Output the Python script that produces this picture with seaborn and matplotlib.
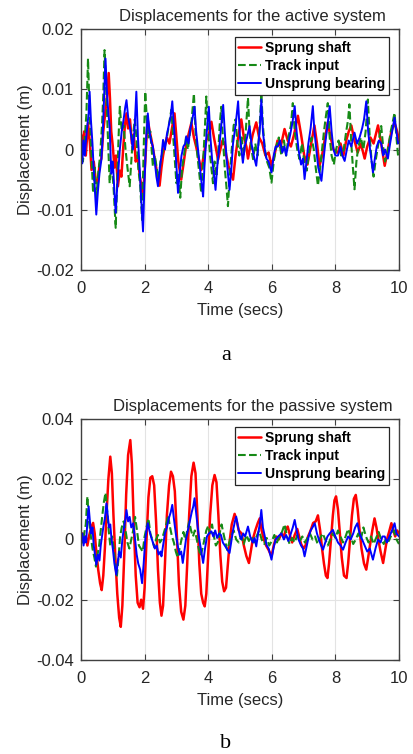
import numpy as np
import pandas as pd
import matplotlib
matplotlib.use("Agg")
import matplotlib.pyplot as plt
import seaborn as sns
from matplotlib.ticker import FuncFormatter

# ==========================================
# data (values in mm, converted to m below)
# ==========================================
SERIES_NAMES = ["Sprung shaft", "Track input", "Unsprung bearing"]

# --- panel a : active system ---
ACT_RED_T = [0.00, 0.05, 0.10, 0.15, 0.22, 0.28, 0.33, 0.40, 0.46, 0.53, 0.58, 0.64, 0.70, 0.76, 0.82, 0.87, 0.91, 0.95,
             1.00, 1.05, 1.10, 1.16, 1.22, 1.27, 1.33, 1.38, 1.43, 1.48, 1.54, 1.60, 1.66, 1.72, 1.78, 1.85, 1.95, 2.02,
             2.06, 2.10, 2.16, 2.22, 2.30, 2.38, 2.47, 2.53, 2.58, 2.63, 2.70, 2.78, 2.86, 2.94, 3.00, 3.06, 3.15, 3.22,
             3.30, 3.38, 3.47, 3.55, 3.62, 3.70, 3.78, 3.86, 3.94, 4.02, 4.10, 4.18, 4.25, 4.31, 4.38, 4.45, 4.52, 4.57,
             4.65, 4.72, 4.78, 4.86, 4.94, 5.04, 5.12, 5.20, 5.25, 5.32, 5.40, 5.51, 5.60, 5.70, 5.80, 5.90, 5.99, 6.08,
             6.18, 6.28, 6.40, 6.50, 6.60, 6.70, 6.82, 6.92, 7.02, 7.12, 7.22, 7.34, 7.42, 7.50, 7.58, 7.66, 7.76, 7.85,
             7.94, 8.02, 8.08, 8.16, 8.25, 8.34, 8.42, 8.50, 8.60, 8.70, 8.80, 8.92, 9.00, 9.10, 9.20, 9.34, 9.44, 9.55,
             9.65, 9.76, 9.86, 9.94, 10.0]
ACT_RED_V = [2.5, 1.0, 3.0, -1.0, 4.4, 1.0, -3.4, -2.0, -5.0, -5.6, -2.5, -1.5, 3.0, 6.0, 9.0, 12.7, 8.5, 3.0,
             0.5, -3.0, -1.0, -6.1, -3.5, -4.5, 0.5, 4.0, 6.0, 3.5, 5.0, 1.0, 2.5, -2.0, -1.0, -4.5, -7.8, -2.0,
             2.0, 4.9, 3.0, 1.5, -1.0, -3.5, -6.0, -3.0, -1.0, 0.5, 2.0, 1.0, 3.5, 6.0, 2.0, -2.0, -5.0, -2.5,
             0.5, 2.5, 4.4, 2.0, 0.5, -1.5, -3.4, -1.0, 1.5, 2.5, 4.6, 2.0, 0.0, -1.7, 0.0, 1.5, 1.0, -1.0,
             -3.0, -4.0, -5.0, -1.0, 2.0, 5.0, 2.0, 0.5, -1.5, 0.5, 2.5, 4.5, 2.0, 1.0, -1.0, -0.5, -2.7, -1.0,
             1.5, 0.5, 3.4, 1.5, 0.5, 2.5, 5.6, 2.5, -1.0, -2.5, 0.5, 4.0, 1.0, -2.7, -1.0, 1.5, 4.5, 2.0,
             0.0, -0.5, -0.5, 1.0, -1.0, 1.5, 3.0, 4.0, 1.5, -0.5, 1.0, -1.5, 0.5, 2.0, 1.0, 4.0, 1.0, -2.7,
             0.0, 3.0, 4.5, 3.0, 1.5]

ACT_GRN_T = [0.00, 0.06, 0.12, 0.17, 0.22, 0.27, 0.32, 0.38, 0.43, 0.48, 0.54, 0.60, 0.66, 0.70, 0.74, 0.79, 0.84, 0.90,
             0.96, 1.02, 1.09, 1.14, 1.18, 1.22, 1.28, 1.34, 1.40, 1.46, 1.53, 1.58, 1.63, 1.69, 1.74, 1.80, 1.86, 1.92,
             1.97, 2.02, 2.07, 2.12, 2.18, 2.26, 2.32, 2.38, 2.44, 2.50, 2.56, 2.63, 2.70, 2.76, 2.84, 2.90, 2.95, 3.00,
             3.06, 3.12, 3.18, 3.24, 3.30, 3.36, 3.42, 3.48, 3.55, 3.60, 3.66, 3.72, 3.78, 3.84, 3.89, 3.94, 4.00, 4.06,
             4.15, 4.20, 4.26, 4.32, 4.36, 4.41, 4.46, 4.52, 4.57, 4.62, 4.68, 4.74, 4.80, 4.86, 4.92, 4.98, 5.05, 5.12,
             5.18, 5.25, 5.30, 5.36, 5.41, 5.48, 5.55, 5.61, 5.67, 5.72, 5.78, 5.85, 5.92, 5.99, 6.06, 6.14, 6.22, 6.30,
             6.38, 6.45, 6.52, 6.60, 6.66, 6.72, 6.80, 6.87, 6.95, 7.02, 7.10, 7.18, 7.25, 7.32, 7.38, 7.45, 7.52, 7.58,
             7.64, 7.70, 7.76, 7.82, 7.88, 7.95, 8.02, 8.10, 8.18, 8.26, 8.34, 8.40, 8.44, 8.50, 8.55, 8.60, 8.66, 8.72,
             8.80, 8.88, 8.95, 9.02, 9.08, 9.14, 9.20, 9.26, 9.32, 9.38, 9.44, 9.50, 9.56, 9.62, 9.68, 9.74, 9.80, 9.86,
             9.92, 9.97, 10.0]
ACT_GRN_V = [0.5, -2.0, 2.0, 6.0, 15.1, 6.0, 0.0, -7.2, -3.0, -8.3, -4.0, -1.0, 4.0, 9.0, 16.5, 10.0, 3.0, -5.6,
             -2.0, -6.0, -13.0, -5.0, 2.0, 7.1, 3.0, 4.0, 0.0, -3.0, -6.1, -2.0, 2.0, 5.0, 2.2, -3.0, -6.0, -11.7,
             0.0, 9.6, 5.0, 2.0, 3.0, -2.8, -1.0, -3.0, -5.0, -2.0, -0.5, 0.7, 2.0, 4.0, 6.6, 2.0, -2.0, -5.6,
             -4.0, -8.0, -3.0, -1.0, 2.0, 0.0, 2.5, 5.0, 9.3, 3.0, -1.0, -4.0, -7.2, -2.0, 3.0, 8.8, 3.0, -1.0,
             -5.6, -2.0, -4.5, 0.0, 4.0, 7.1, 2.0, -3.0, -6.0, -9.4, -4.0, 0.0, 4.0, 5.0, 1.0, -1.0, 2.0, -1.0,
             3.0, 8.6, 3.0, 0.0, -1.6, 1.0, -1.0, 3.0, 9.4, 4.0, 0.0, -2.0, -3.0, -5.5, -2.0, 0.5, 2.0, -1.0,
             1.5, -1.0, 2.0, 4.0, 7.7, 3.0, 0.0, -1.6, 1.0, -2.0, -3.5, 0.0, 2.0, 0.0, -3.0, -6.0, -3.0, 0.0,
             3.0, 5.5, 7.7, 2.0, -1.0, -2.5, 0.0, 1.5, -1.0, 0.0, 3.0, 5.0, 7.5, 1.0, -3.0, -6.6, -2.0, 0.5,
             2.0, 0.0, 3.0, 8.3, 2.0, -2.0, -4.5, -2.0, 0.0, 2.0, 3.9, 0.5, -2.0, -1.0, 1.0, 3.0, 4.5, 6.1,
             2.0, -1.0, -1.5]

ACT_BLU_T = [0.00, 0.04, 0.08, 0.12, 0.18, 0.24, 0.27, 0.31, 0.36, 0.40, 0.44, 0.48, 0.53, 0.58, 0.64, 0.68, 0.72, 0.77,
             0.81, 0.86, 0.90, 0.95, 1.00, 1.05, 1.09, 1.14, 1.18, 1.22, 1.28, 1.34, 1.39, 1.43, 1.48, 1.53, 1.58, 1.63,
             1.68, 1.74, 1.79, 1.84, 1.89, 1.95, 2.00, 2.05, 2.10, 2.15, 2.20, 2.26, 2.32, 2.37, 2.42, 2.48, 2.53, 2.58,
             2.64, 2.70, 2.76, 2.82, 2.87, 2.92, 2.97, 3.01, 3.05, 3.10, 3.16, 3.22, 3.28, 3.31, 3.38, 3.44, 3.50, 3.57,
             3.62, 3.68, 3.74, 3.80, 3.84, 3.88, 3.94, 3.98, 4.02, 4.07, 4.12, 4.18, 4.23, 4.28, 4.34, 4.40, 4.47, 4.52,
             4.57, 4.62, 4.67, 4.73, 4.78, 4.86, 4.94, 5.00, 5.09, 5.15, 5.22, 5.30, 5.36, 5.43, 5.51, 5.58, 5.63, 5.67,
             5.72, 5.78, 5.83, 5.90, 5.99, 6.06, 6.12, 6.19, 6.26, 6.33, 6.40, 6.45, 6.52, 6.58, 6.65, 6.72, 6.78, 6.84,
             6.92, 6.98, 7.03, 7.09, 7.15, 7.22, 7.29, 7.34, 7.40, 7.46, 7.51, 7.56, 7.62, 7.68, 7.75, 7.82, 7.88, 7.94,
             8.00, 8.08, 8.16, 8.22, 8.29, 8.36, 8.42, 8.50, 8.60, 8.68, 8.76, 8.84, 8.90, 8.97, 9.03, 9.09, 9.14, 9.18,
             9.24, 9.30, 9.37, 9.44, 9.50, 9.56, 9.65, 9.72, 9.80, 9.86, 9.92, 9.97, 10.0]
ACT_BLU_V = [2.5, -2.3, 1.5, -1.0, 3.0, 6.0, 9.6, 5.0, 1.0, -3.4, -7.0, -10.8, -7.0, -4.0, -1.7, 2.0, 8.0, 15.1,
             10.0, 6.0, 3.8, -4.0, -2.0, -7.0, -10.5, -6.0, -3.0, 0.0, 3.0, 5.0, 7.0, 8.2, 5.5, 4.0, 2.2, 0.0,
             3.0, 9.6, 2.0, -2.8, -8.0, -13.6, -5.0, 2.0, 6.0, 3.0, 1.5, 0.5, -2.0, -4.5, -6.1, -3.0, -1.0, 1.6,
             0.0, 2.5, 4.0, 5.5, 8.0, 4.0, 0.0, -3.5, -7.2, -4.0, -1.0, 0.5, 1.0, 2.2, 1.0, 3.5, 5.0, 7.1,
             3.0, 0.0, -3.0, -6.0, -7.8, -3.0, 2.0, 4.5, 7.1, 2.0, -1.5, -4.0, -6.7, -3.0, 0.0, 3.5, 7.4, 3.0,
             -1.0, -4.0, -6.7, -3.0, 1.0, 4.0, 8.0, 2.0, -2.2, 0.5, 2.0, 3.9, 1.0, -1.0, -2.7, 1.0, 4.0, 8.3,
             3.0, 0.0, -1.5, -2.0, -3.8, -1.0, 0.5, 0.5, 1.5, -0.5, 0.5, -1.0, 1.0, 2.5, 4.5, 7.2, 3.0, 0.0,
             -2.5, -1.5, -4.9, -2.0, 1.0, 3.5, 7.2, 3.0, 0.0, -3.0, -4.0, -5.2, -2.0, 1.0, 4.0, 7.2, 3.0, 0.0,
             -1.0, -1.0, 0.5, -1.0, -1.9, 0.0, 1.5, 0.5, 2.8, 1.0, 2.0, 3.5, 5.0, 8.0, 3.0, 0.0, -2.0, -3.8,
             -1.5, 0.5, 1.5, 1.0, -1.0, 0.0, -1.5, 1.0, 3.5, 5.3, 3.0, 1.0, 1.2]

# --- panel b : passive system ---
PAS_RED_T = [0.00, 0.05, 0.10, 0.15, 0.20, 0.26, 0.32, 0.38, 0.43, 0.48, 0.54, 0.60, 0.65, 0.70, 0.75, 0.80, 0.86, 0.92,
             0.97, 1.02, 1.08, 1.14, 1.20, 1.25, 1.30, 1.36, 1.42, 1.48, 1.55, 1.60, 1.66, 1.72, 1.78, 1.84, 1.89, 1.95,
             2.00, 2.06, 2.12, 2.18, 2.24, 2.30, 2.36, 2.42, 2.48, 2.53, 2.58, 2.64, 2.70, 2.77, 2.83, 2.89, 2.95, 3.02,
             3.08, 3.15, 3.22, 3.28, 3.34, 3.40, 3.47, 3.54, 3.60, 3.66, 3.72, 3.78, 3.84, 3.89, 3.94, 4.00, 4.06, 4.13,
             4.20, 4.26, 4.32, 4.38, 4.44, 4.50, 4.56, 4.62, 4.68, 4.74, 4.83, 4.90, 4.96, 5.05, 5.12, 5.20, 5.28, 5.34,
             5.40, 5.48, 5.56, 5.62, 5.68, 5.75, 5.82, 5.90, 5.99, 6.06, 6.14, 6.22, 6.30, 6.38, 6.45, 6.50, 6.58, 6.64,
             6.72, 6.80, 6.86, 6.92, 7.00, 7.06, 7.14, 7.22, 7.30, 7.38, 7.45, 7.52, 7.58, 7.64, 7.70, 7.75, 7.80, 7.86,
             7.92, 7.97, 8.02, 8.08, 8.14, 8.20, 8.27, 8.35, 8.40, 8.46, 8.52, 8.58, 8.64, 8.70, 8.76, 8.82, 8.90, 8.97,
             9.03, 9.10, 9.16, 9.23, 9.29, 9.35, 9.42, 9.50, 9.56, 9.62, 9.70, 9.76, 9.82, 9.88, 9.94, 10.0]
PAS_RED_V = [0.0, 2.0, -1.0, 1.0, -2.0, 1.5, 4.0, 5.5, 2.0, -4.0, -10.0, -14.5, -16.8, -12.0, -3.0, 8.0, 20.0, 27.5,
             22.0, 8.0, -6.0, -18.0, -26.0, -29.0, -22.0, -5.0, 15.0, 28.0, 33.0, 25.0, 5.0, -12.0, -21.0, -22.5, -20.0, -23.0,
             -16.0, 0.0, 14.0, 20.5, 21.0, 18.0, 6.0, -10.0, -21.0, -25.3, -22.0, -8.0, 8.0, 18.0, 22.5, 21.0, 16.0, 0.0,
             -15.0, -24.0, -26.6, -22.0, -8.0, 8.0, 21.0, 25.5, 22.0, 8.0, -8.0, -18.0, -21.0, -22.2, -18.0, -5.0, 8.0, 18.0,
             21.4, 19.0, 8.0, -5.0, -14.0, -17.2, -16.0, -8.0, 0.0, 5.0, 8.5, 6.0, 3.0, 2.0, -2.0, -5.5, -7.8, -4.0,
             0.0, 3.0, 5.5, 7.0, 3.0, 0.0, -2.0, -3.5, -5.6, -2.0, 1.0, 0.0, 2.0, 1.0, 3.5, 4.3, 1.0, -1.0,
             1.5, 3.5, 1.0, -1.5, -3.0, -2.0, 1.0, 3.0, 5.5, 6.0, 8.0, 3.0, -3.0, -8.0, -12.0, -12.8, -8.0, 0.0,
             8.0, 13.0, 14.3, 10.0, 2.0, -6.0, -12.0, -12.8, -8.0, 0.0, 8.0, 13.5, 14.8, 10.0, 3.0, -3.0, -8.0, -10.0,
             -6.0, -1.0, 3.0, 7.0, 4.0, 0.0, -4.0, -7.8, -4.0, 0.0, 3.0, 5.4, 3.0, 1.0, 3.0, 2.0]

PAS_GRN_T = [0.00, 0.05, 0.10, 0.15, 0.20, 0.25, 0.30, 0.36, 0.42, 0.47, 0.52, 0.57, 0.62, 0.67, 0.72, 0.77, 0.82, 0.87,
             0.92, 0.98, 1.03, 1.08, 1.13, 1.18, 1.23, 1.28, 1.34, 1.40, 1.46, 1.52, 1.58, 1.64, 1.70, 1.76, 1.82, 1.88,
             1.94, 2.00, 2.06, 2.12, 2.18, 2.24, 2.30, 2.36, 2.42, 2.48, 2.54, 2.60, 2.68, 2.74, 2.80, 2.86, 2.92, 2.98,
             3.04, 3.10, 3.16, 3.22, 3.28, 3.34, 3.40, 3.46, 3.52, 3.58, 3.64, 3.70, 3.76, 3.82, 3.88, 3.94, 4.00, 4.06,
             4.12, 4.18, 4.24, 4.30, 4.36, 4.42, 4.48, 4.54, 4.60, 4.66, 4.72, 4.80, 4.88, 4.96, 5.04, 5.12, 5.20, 5.28,
             5.36, 5.44, 5.52, 5.60, 5.68, 5.76, 5.84, 5.92, 6.00, 6.08, 6.16, 6.24, 6.32, 6.40, 6.48, 6.56, 6.64, 6.72,
             6.80, 6.88, 6.96, 7.04, 7.12, 7.20, 7.28, 7.36, 7.44, 7.52, 7.60, 7.68, 7.76, 7.84, 7.92, 8.00, 8.08, 8.16,
             8.24, 8.32, 8.40, 8.48, 8.56, 8.64, 8.72, 8.80, 8.88, 8.96, 9.04, 9.12, 9.20, 9.28, 9.36, 9.44, 9.52, 9.60,
             9.68, 9.76, 9.84, 9.92, 10.0]
PAS_GRN_V = [1.0, -1.0, 2.0, 5.0, 14.3, 6.0, 2.0, -3.0, -6.0, -9.0, -5.0, -2.0, 3.0, 8.0, 12.5, 15.5, 10.0, 3.0,
             -2.0, 1.0, -3.0, -9.0, -12.0, -6.0, 1.0, 4.0, 6.0, 3.0, -1.0, -3.0, 0.0, 3.0, 7.5, 3.0, -2.0, -3.0,
             -4.0, 1.0, 4.0, 7.0, 2.0, 0.0, -2.5, 0.0, 1.5, -1.0, 0.0, 2.0, 5.0, 8.0, 4.0, 1.0, -1.0, -4.0,
             -6.0, -3.0, 0.0, 2.5, 0.0, 3.0, 6.0, 3.0, 1.0, 3.0, 0.0, -3.0, -5.5, -3.0, 0.0, 3.0, 4.5, 2.0,
             5.0, 1.0, -2.0, -1.0, 2.0, 5.0, 2.0, -1.0, -3.5, -1.0, 1.0, 3.0, 0.0, -1.0, 1.0, -1.5, 1.5, -0.5,
             1.0, -1.0, 1.0, 3.0, 0.0, -1.5, 0.5, -2.0, -0.5, 1.5, -1.0, 1.0, 2.5, 5.0, 1.0, -1.5, 0.5, -1.0,
             1.5, -0.5, 1.0, -1.0, 0.5, 2.0, 0.0, 1.0, -1.5, 0.5, 2.0, 0.0, -2.0, 0.0, 2.0, 0.5, 3.0, 1.0,
             -1.0, 1.0, 3.5, 1.0, -1.5, 0.0, 2.0, 0.0, 4.0, 1.0, -1.0, 1.0, -1.5, 0.5, 2.5, 0.0, -1.5, 0.5,
             -0.5, 1.5, 3.0, 0.0, -1.5]

PAS_BLU_T = [0.00, 0.04, 0.08, 0.12, 0.16, 0.20, 0.24, 0.28, 0.32, 0.36, 0.40, 0.44, 0.48, 0.53, 0.58, 0.62, 0.66, 0.70,
             0.75, 0.80, 0.84, 0.88, 0.92, 0.96, 1.00, 1.05, 1.11, 1.15, 1.20, 1.25, 1.30, 1.35, 1.40, 1.43, 1.48, 1.53,
             1.58, 1.64, 1.70, 1.75, 1.80, 1.86, 1.92, 1.97, 2.02, 2.06, 2.10, 2.15, 2.20, 2.26, 2.32, 2.38, 2.44, 2.50,
             2.53, 2.58, 2.64, 2.70, 2.76, 2.82, 2.87, 2.92, 2.98, 3.04, 3.10, 3.15, 3.20, 3.25, 3.30, 3.36, 3.42, 3.48,
             3.53, 3.57, 3.62, 3.67, 3.72, 3.78, 3.84, 3.90, 3.96, 4.02, 4.10, 4.16, 4.22, 4.28, 4.34, 4.40, 4.46, 4.52,
             4.58, 4.67, 4.72, 4.78, 4.84, 4.88, 4.94, 5.00, 5.04, 5.10, 5.16, 5.25, 5.32, 5.40, 5.46, 5.51, 5.57, 5.62,
             5.67, 5.72, 5.78, 5.84, 5.90, 5.99, 6.05, 6.12, 6.20, 6.30, 6.38, 6.45, 6.52, 6.60, 6.66, 6.72, 6.78, 6.84,
             6.92, 6.98, 7.03, 7.10, 7.16, 7.22, 7.28, 7.35, 7.42, 7.48, 7.55, 7.61, 7.68, 7.75, 7.82, 7.92, 8.00, 8.08,
             8.16, 8.24, 8.32, 8.40, 8.48, 8.56, 8.62, 8.69, 8.76, 8.84, 8.92, 9.00, 9.08, 9.18, 9.26, 9.34, 9.42, 9.48,
             9.55, 9.62, 9.70, 9.78, 9.86, 9.92, 10.0]
PAS_BLU_V = [0.0, 2.0, -2.0, 1.0, -1.0, 6.0, 11.0, 6.0, 2.0, 4.0, -2.0, -5.0, -8.4, -5.0, -7.0, -2.0, 1.0, 4.0,
             7.0, 12.0, 8.0, 4.0, 5.0, 0.0, -3.0, -8.0, -11.7, -8.0, -4.0, -6.0, 0.0, 4.0, 7.0, 9.8, 6.0, 7.5,
             4.0, 5.4, 0.0, -5.0, -8.0, -10.0, -14.5, -8.0, 0.0, 3.0, 5.4, 3.0, 1.0, -1.0, -3.0, -2.0, -5.0, -4.0,
             -5.6, -2.0, 2.0, 4.0, 7.0, 9.0, 11.5, 7.0, 2.0, -2.0, -5.0, -4.0, -7.8, -4.0, 0.0, 3.0, 6.0, 9.0,
             11.0, 13.7, 9.0, 4.0, 0.0, -4.0, -7.8, -3.0, 1.0, 2.0, 2.7, 1.0, 3.0, 0.5, 2.0, 1.5, -1.0, -2.0,
             -3.0, -4.5, -1.0, 3.0, 6.0, 7.6, 4.0, 1.0, 0.0, 2.0, 1.0, 4.3, 1.0, -1.0, 0.5, -2.3, 2.0, 5.0,
             9.8, 4.0, 1.0, -2.0, -3.0, -6.7, -3.0, 0.0, 1.0, 2.0, 0.0, 1.5, -0.5, 2.0, 4.0, 6.5, 3.0, 0.0,
             -2.0, -3.0, -5.6, -2.0, 1.0, 3.0, 4.0, 5.4, 2.0, 0.0, -2.0, -3.4, -1.0, 1.0, 2.0, 3.2, 1.0, -1.0,
             -2.0, -3.4, -1.0, 1.0, 0.0, 2.0, 4.0, 5.4, 2.0, 0.0, -2.0, -4.0, -3.0, -6.7, -3.0, 0.0, -1.0, 1.0,
             1.0, -1.0, 1.0, 3.0, 5.4, 2.0, 1.0]

PANELS = [
    ("Displacements for the active system", "a", 0.02, [0.02, 0.01, 0, -0.01, -0.02],
     [(ACT_RED_T, ACT_RED_V), (ACT_GRN_T, ACT_GRN_V), (ACT_BLU_T, ACT_BLU_V)]),
    ("Displacements for the passive system", "b", 0.04, [0.04, 0.02, 0, -0.02, -0.04],
     [(PAS_RED_T, PAS_RED_V), (PAS_GRN_T, PAS_GRN_V), (PAS_BLU_T, PAS_BLU_V)]),
]
X_TICKS = [0, 2, 4, 6, 8, 10]

# ==========================================
# style
# ==========================================
sns.set_theme(style="whitegrid")
plt.rcParams['font.family'] = ['Liberation Sans', 'DejaVu Sans']
plt.rcParams['axes.unicode_minus'] = False

COLORS = ['#ff0000', '#168a16', '#0000ff']
STYLES = ['-', '--', '-']
WIDTHS = [1.8, 1.5, 1.4]
TXT = '#262626'

fig = plt.figure(figsize=(4.14, 7.54), dpi=100)
fig.patch.set_facecolor('white')
axes_pos = [[0.1957, 0.6419, 0.7681, 0.3196], [0.1957, 0.1247, 0.7681, 0.3196]]
caption_y = [0.5225, 0.008]

for (title, cap, lim, yticks, series), pos, cy in zip(PANELS, axes_pos, caption_y):
    ax = fig.add_axes(pos)
    ax.set_facecolor('white')
    for name, (tt, vv), c, ls, lw in zip(SERIES_NAMES, series, COLORS, STYLES, WIDTHS):
        df = pd.DataFrame({'t': tt, 'd': np.array(vv) * 1e-3})
        sns.lineplot(data=df, x='t', y='d', ax=ax, color=c, linestyle=ls, linewidth=lw,
                     estimator=None, sort=False, label=name)

    ax.set_xlim(0, 10)
    ax.set_ylim(-lim, lim)
    ax.set_xticks(X_TICKS)
    ax.set_yticks(yticks)
    ax.yaxis.set_major_formatter(FuncFormatter(lambda v, p: '%g' % round(v, 4)))
    ax.grid(True, color='#e3e3e3', linewidth=0.8)
    for s in ax.spines.values():
        s.set_visible(True)
        s.set_color('#404040')
        s.set_linewidth(1.0)
    ax.tick_params(direction='in', length=4, width=0.8, color='#404040',
                   top=True, right=True, bottom=True, left=True,
                   labelsize=12, labelcolor=TXT)
    ax.tick_params(axis='x', pad=8)
    ax.tick_params(axis='y', pad=5)

    ax.set_title(title, fontsize=12, color=TXT, x=0.54, pad=6)
    ax.set_xlabel("Time (secs)", fontsize=12, color=TXT)
    ax.set_ylabel("Displacement (m)", fontsize=12, color=TXT)
    ax.xaxis.set_label_coords(0.5, -0.135)
    ax.yaxis.set_label_coords(-0.15, 0.5)

    leg = ax.legend(loc='upper right', bbox_to_anchor=(0.967, 0.965), borderaxespad=0,
                    prop={'weight': 'bold', 'size': 10}, frameon=True, fancybox=False,
                    handlelength=1.6, handletextpad=0.3, labelspacing=0.3,
                    borderpad=0.25, framealpha=1)
    leg.get_frame().set_edgecolor('#262626')
    leg.get_frame().set_linewidth(0.9)
    for txt in leg.get_texts():
        txt.set_color('black')

    fig.text(0.546, cy, cap, fontsize=16, family='Liberation Serif', ha='center', va='baseline', color='black')

fig.savefig("out.png", dpi=100)
